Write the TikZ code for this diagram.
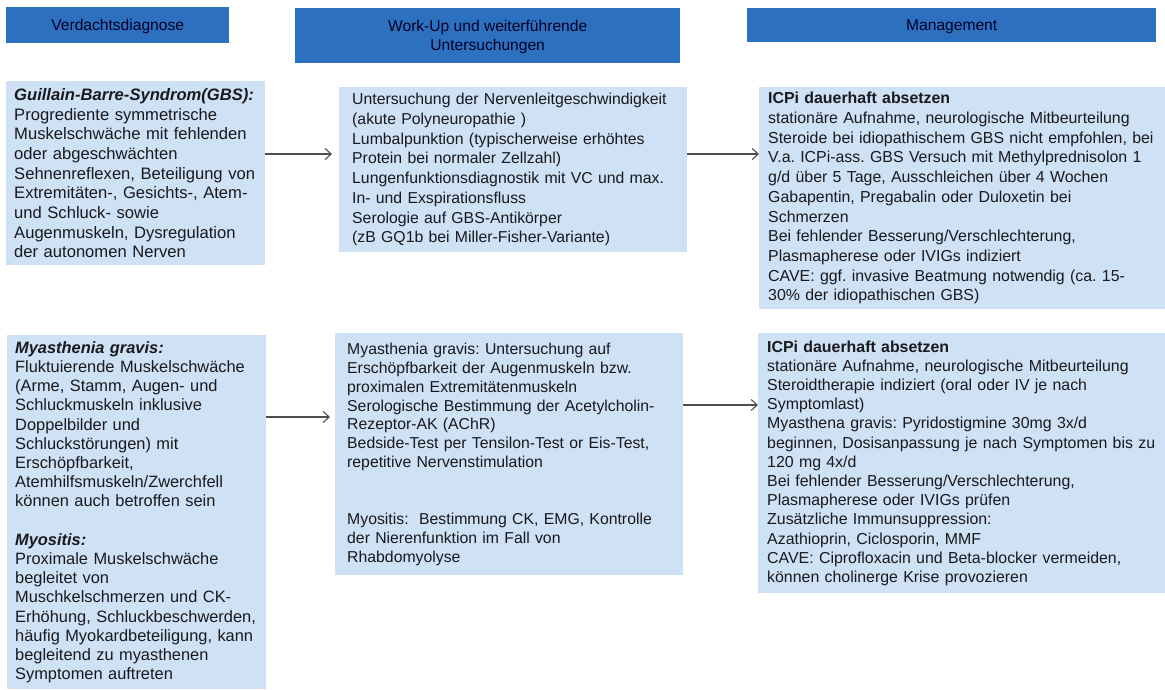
\documentclass[tikz,border=0pt]{standalone}
\usepackage{fontspec}
\setmainfont{Liberation Sans}
\usetikzlibrary{arrows.meta}
\definecolor{hdrblue}{RGB}{46,112,192}
\definecolor{boxblue}{RGB}{207,225,244}
\definecolor{inktext}{RGB}{25,25,30}
\frenchspacing
\newcommand\cardfont[2]{\fontsize{#1}{#2}\selectfont\hyphenpenalty=10000\relax}
\begin{document}
\begin{tikzpicture}[x=1pt, y=-1pt,
	every node/.style={anchor=north west, inner ysep=0pt, text=inktext},
	hdr/.style={fill=hdrblue, align=center, inner xsep=0pt, text depth=0pt, font=\fontsize{15.6}{19}\selectfont, text=black!85!blue},
	card/.style={fill=boxblue, align=left, font=\cardfont{16.6}{19.7}},
	cardlow/.style={card, font=\cardfont{16.4}{19.2}},
	mgmtcard/.style={card, font=\cardfont{15.9}{19.7}},
	mgmtcardlow/.style={card, font=\cardfont{15.9}{19.2}},
	workcard/.style={card, font=\cardfont{15.8}{19.7}},
	workcardlow/.style={card, font=\cardfont{15.8}{18.9}},
	flow/.style={draw=black!70, line width=1.1pt, -{Straight Barb[length=6pt,width=11pt]}}]
	\useasboundingbox (0,0) rectangle (1165,689);
	\node[hdr, minimum width=223, minimum height=36] (hdiag) at (6,7) {Verdachtsdiagnose};
	\node[hdr, minimum width=385, minimum height=55] (hwork) at (295,8) {Work-Up und weiterführende\\Untersuchungen};
	\node[hdr, minimum width=409, minimum height=34] (hmgmt) at (747,8) {Management};
	\node[card, text width=243pt, inner xsep=8pt, minimum height=184] (gbs) at (6,81) {\textbf{\textit{Guillain-Barre-Syndrom(GBS):}}\\
		Progrediente symmetrische\\
		Muskelschwäche mit fehlenden\\
		oder abgeschwächten\\
		Sehnenreflexen, Beteiligung von\\
		Extremitäten-, Gesichts-, Atem-\\
		und Schluck- sowie\\
		Augenmuskeln, Dysregulation\\
		der autonomen Nerven};
	\node[workcard, text width=322pt, inner xsep=13pt, minimum height=165] (gbswork) at (339,87) {Untersuchung der Nervenleitgeschwindigkeit\\
		(akute Polyneuropathie )\\
		Lumbalpunktion (typischerweise erhöhtes\\
		Protein bei normaler Zellzahl)\\
		Lungenfunktionsdiagnostik mit VC und max.\\
		In- und Exspirationsfluss\\
		Serologie auf GBS-Antikörper\\
		(zB GQ1b bei Miller-Fisher-Variante)};
	\node[mgmtcard, text width=388pt, inner xsep=9pt, minimum height=222] (gbsmgmt) at (759,87) {\textbf{ICPi dauerhaft absetzen}\\
		stationäre Aufnahme, neurologische Mitbeurteilung\\
		Steroide bei idiopathischem GBS nicht empfohlen, bei\\
		V.a. ICPi-ass. GBS Versuch mit Methylprednisolon 1\\
		g/d über 5 Tage, Ausschleichen über 4 Wochen\\
		Gabapentin, Pregabalin oder Duloxetin bei\\
		Schmerzen\\
		Bei fehlender Besserung/Verschlechterung,\\
		Plasmapherese oder IVIGs indiziert\\
		CAVE: ggf. invasive Beatmung notwendig (ca. 15-\\
		30\% der idiopathischen GBS)};
	\node[cardlow, text width=243pt, inner xsep=8pt, minimum height=354] (mg) at (7,335) {\textbf{\textit{Myasthenia gravis:}}\\
		Fluktuierende Muskelschwäche\\
		(Arme, Stamm, Augen- und\\
		Schluckmuskeln inklusive\\
		Doppelbilder und\\
		Schluckstörungen) mit\\
		Erschöpfbarkeit,\\
		Atemhilfsmuskeln/Zwerchfell\\
		können auch betroffen sein\\[19.2pt]
		\textbf{\textit{Myositis:}}\\
		Proximale Muskelschwäche\\
		begleitet von\\
		Muschkelschmerzen und CK-\\
		Erhöhung, Schluckbeschwerden,\\
		häufig Myokardbeteiligung, kann\\
		begleitend zu myasthenen\\
		Symptomen auftreten};
	\node[workcardlow, text width=324pt, inner xsep=12pt, minimum height=242] (mgwork) at (335,333) {Myasthenia gravis: Untersuchung auf\\
		Erschöpfbarkeit der Augenmuskeln bzw.\\
		proximalen Extremitätenmuskeln\\
		Serologische Bestimmung der Acetylcholin-\\
		Rezeptor-AK (AChR)\\
		Bedside-Test per Tensilon-Test or Eis-Test,\\
		repetitive Nervenstimulation\\[37.8pt]
		Myositis:\ \ Bestimmung CK, EMG, Kontrolle\\
		der Nierenfunktion im Fall von\\
		Rhabdomyolyse};
	\node[mgmtcardlow, text width=389pt, inner xsep=9pt, minimum height=260] (mgmgmt) at (758,333) {\textbf{ICPi dauerhaft absetzen}\\
		stationäre Aufnahme, neurologische Mitbeurteilung\\
		Steroidtherapie indiziert (oral oder IV je nach\\
		Symptomlast)\\
		Myasthena gravis: Pyridostigmine 30mg 3x/d\\
		beginnen, Dosisanpassung je nach Symptomen bis zu\\
		120 mg 4x/d\\
		Bei fehlender Besserung/Verschlechterung,\\
		Plasmapherese oder IVIGs prüfen\\
		Zusätzliche Immunsuppression:\\
		Azathioprin, Ciclosporin, MMF\\
		CAVE: Ciprofloxacin und Beta-blocker vermeiden,\\
		können cholinerge Krise provozieren};
	\coordinate (rowa) at (0,154);
	\coordinate (rowb) at (0,417);
	\coordinate (rowc) at (0,405);
	\draw[flow, shorten >=7pt] (gbs.east |- rowa) -- (gbswork.west |- rowa);
	\draw[flow] (gbswork.east |- rowa) -- (gbsmgmt.west |- rowa);
	\draw[flow, shorten >=5pt] (mg.east |- rowb) -- (mgwork.west |- rowb);
	\draw[flow] (mgwork.east |- rowc) -- (mgmgmt.west |- rowc);
\end{tikzpicture}
\end{document}
